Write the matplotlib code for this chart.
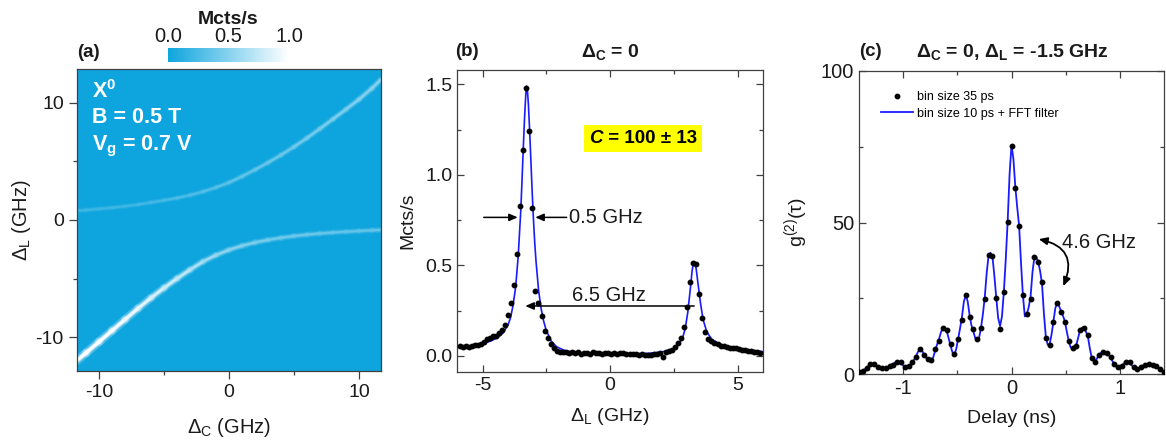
import numpy as np
import matplotlib
matplotlib.use("Agg")
import matplotlib.pyplot as plt
from matplotlib.colors import LinearSegmentedColormap, Normalize
from matplotlib.collections import LineCollection
from matplotlib.cm import ScalarMappable
from matplotlib.offsetbox import TextArea, HPacker, AnchoredOffsetbox
from matplotlib.ticker import MultipleLocator

plt.rcParams["font.family"] = ["Liberation Sans", "DejaVu Sans"]
plt.rcParams["mathtext.fontset"] = "custom"
plt.rcParams["mathtext.rm"] = "Liberation Sans"
plt.rcParams["mathtext.it"] = "Liberation Sans:italic"
plt.rcParams["mathtext.bf"] = "Liberation Sans:bold"
plt.rcParams["axes.unicode_minus"] = False

# ---- (a) cavity/laser detuning map: branch positions ----
dc_pts = [-11.7, -11, -10, -9, -8, -7, -6, -5, -4, -3, -2, -1, 0,
          1, 2, 3, 4, 5, 6, 7, 8, 9, 10, 11, 11.7]
upper_branch = [0.80, 0.85, 0.95, 1.05, 1.18, 1.32, 1.50, 1.68, 1.88, 2.12, 2.42, 2.78, 3.20,
                3.72, 4.30, 4.90, 5.55, 6.25, 7.00, 7.80, 8.62, 9.45, 10.30, 11.25, 12.00]
lower_branch = [-12.0, -11.35, -10.4, -9.45, -8.5, -7.55, -6.65, -5.8, -5.0, -4.25, -3.55, -3.0, -2.55,
                -2.2, -1.92, -1.7, -1.52, -1.37, -1.25, -1.15, -1.07, -1.0, -0.94, -0.88, -0.85]
upper_level = [0.20, 0.20, 0.20, 0.20, 0.20, 0.21, 0.22, 0.23, 0.25, 0.26, 0.28, 0.30, 0.32,
               0.34, 0.35, 0.37, 0.38, 0.40, 0.42, 0.43, 0.45, 0.46, 0.48, 0.49, 0.50]
lower_level = [1.0, 1.0, 1.0, 0.97, 0.95, 0.9, 0.85, 0.8, 0.75, 0.68, 0.6, 0.55, 0.5,
               0.47, 0.45, 0.42, 0.4, 0.39, 0.38, 0.37, 0.35, 0.35, 0.35, 0.35, 0.35]

# ---- (b) spectrum at Delta_C = 0 ----
b_start = -5.898
b_step = 0.119
b_counts = [0.052, 0.050, 0.053, 0.050, 0.055, 0.058, 0.062, 0.066, 0.075, 0.090,
            0.100, 0.108, 0.110, 0.125, 0.145, 0.170, 0.225, 0.290, 0.390, 0.560,
            0.830, 1.135, 1.480, 1.240, 0.815, 0.360, 0.290, 0.220, 0.135, 0.100,
            0.065, 0.040, 0.025, 0.020, 0.018, 0.022, 0.016, 0.019, 0.014, 0.020,
            0.012, 0.017, 0.015, 0.010, 0.018, 0.013, 0.016, 0.009, 0.014, 0.017,
            0.011, 0.015, 0.008, 0.013, 0.016, 0.010, 0.012, 0.007, 0.011, 0.005,
            0.009, 0.004, 0.006, 0.002, 0.008, 0.010, 0.015, -0.008, 0.020, 0.026,
            0.033, 0.050, 0.068, 0.100, 0.160, 0.270, 0.410, 0.515, 0.505, 0.340,
            0.210, 0.130, 0.095, 0.080, 0.072, 0.065, 0.056, 0.052, 0.050, 0.045,
            0.044, 0.040, 0.036, 0.034, 0.030, 0.028, 0.025, 0.022, 0.020, 0.016]
fit_x = [-6.0, -5.5, -5.0, -4.7, -4.4, -4.2, -4.0, -3.9, -3.8, -3.7, -3.6, -3.5, -3.45,
         -3.40, -3.35, -3.30, -3.27, -3.24, -3.20, -3.15, -3.10, -3.05, -3.00, -2.95,
         -2.90, -2.80, -2.70, -2.60, -2.50, -2.30, -2.10, -1.80, -1.50, -1.0, 0.0, 1.0,
         1.5, 2.0, 2.3, 2.5, 2.7, 2.85, 2.95, 3.05, 3.15, 3.22, 3.28, 3.32, 3.38, 3.45,
         3.55, 3.65, 3.80, 4.00, 4.30, 4.70, 5.20, 5.60, 6.0]
fit_y = [0.048, 0.055, 0.068, 0.080, 0.100, 0.125, 0.170, 0.21, 0.28, 0.38, 0.55, 0.80, 0.97,
         1.15, 1.32, 1.45, 1.49, 1.47, 1.39, 1.24, 1.07, 0.90, 0.75, 0.62,
         0.52, 0.36, 0.26, 0.19, 0.14, 0.08, 0.05, 0.03, 0.02, 0.014, 0.010, 0.010,
         0.013, 0.02, 0.03, 0.04, 0.065, 0.10, 0.15, 0.24, 0.37, 0.47, 0.52, 0.52, 0.48, 0.40,
         0.29, 0.20, 0.13, 0.09, 0.065, 0.05, 0.037, 0.03, 0.022]

# ---- (c) g2 at Delta_C = 0, Delta_L = -1.5 GHz ----
c_bin = 0.035        # ns, dots
c_fine = 0.0175      # ns, spacing of the filtered curve samples
c_dots = [0.8, 1.0, 1.9, 3.2, 3.2, 2.3, 2.1, 1.9, 2.8, 2.9,
          4.0, 3.8, 2.3, 2.5, 3.8, 5.6, 8.2, 6.3, 5.1, 4.5,
          8.3, 10.9, 15.1, 14.5, 9.8, 6.7, 11.5, 17.8, 26.0, 18.9,
          15.0, 11.7, 15.1, 24.9, 39.3, 39.1, 25.1, 14.8, 26.9, 50.3,
          75.2,
          61.5, 48.8, 26.0, 19.8, 24.7, 38.5, 36.9, 30.2, 12.0, 9.6,
          17.2, 23.3, 20.6, 17.3, 10.9, 8.5, 9.3, 14.5, 15.1, 12.8,
          5.4, 4.0, 6.3, 7.1, 6.8, 5.6, 3.2, 2.3, 2.6, 4.0,
          3.8, 2.3, 1.7, 2.3, 3.0, 3.2, 3.0, 2.5, 1.5, 0.8]
c_fit_left = [0.8, 0.9, 1.1, 1.5, 2.0, 2.6, 3.1, 3.3, 3.2, 2.8,
              2.4, 2.1, 2.0, 1.9, 2.0, 2.3, 2.7, 3.1, 3.4, 3.8,
              4.0, 3.9, 3.6, 2.9, 2.4, 2.3, 2.5, 3.0, 3.8, 4.8,
              6.0, 7.4, 8.2, 7.8, 6.6, 5.5, 4.8, 4.4, 4.4, 5.6,
              7.8, 9.8, 11.6, 13.8, 15.2, 15.4, 14.3, 11.8, 9.4, 7.2,
              6.4, 8.2, 11.6, 15.0, 18.8, 23.8, 26.1, 24.0, 19.5, 16.0,
              14.0, 11.8, 11.0, 12.0, 15.2, 19.8, 25.5, 33.5, 39.2, 40.0,
              38.8, 32.5, 25.2, 18.5, 15.8, 19.0, 27.2, 38.0, 50.6, 66.0,
              75.5]
c_fit_right = [71.0, 61.8, 55.0, 48.8, 36.5, 25.8, 19.0, 19.6, 22.0, 25.5,
               33.5, 38.6, 38.6, 37.0, 34.0, 29.8, 20.0, 12.3, 9.6, 9.9,
               13.0, 17.3, 21.8, 23.4, 22.4, 20.7, 19.2, 17.4, 14.0, 11.0,
               8.8, 8.4, 8.7, 9.6, 12.0, 14.5, 15.3, 15.1, 14.0, 12.6,
               8.8, 5.6, 4.3, 4.3, 5.3, 6.4, 7.0, 7.2, 7.1, 6.8,
               6.2, 5.4, 4.2, 3.2, 2.5, 2.3, 2.5, 2.9, 3.5, 4.0,
               3.9, 3.6, 2.9, 2.3, 1.9, 1.8, 2.0, 2.4, 2.8, 3.1,
               3.3, 3.3, 3.2, 3.0, 2.7, 2.3, 1.9, 1.5, 1.1, 0.8]

BLUE_BG = "#0ea5de"
LINE_BLUE = "#1a1aff"
INK = "#1a1a1a"
SPINE = "#404040"
cmap = LinearSegmentedColormap.from_list("blue_white", [BLUE_BG, "white"])

W, H = 1166, 442
fig = plt.figure(figsize=(W / 100, H / 100), dpi=100)


def px_axes(left, top, right, bottom):
    return fig.add_axes([left / W, 1 - bottom / H, (right - left) / W, (bottom - top) / H])


def style_spines(ax):
    for s in ax.spines.values():
        s.set_color(SPINE)
        s.set_linewidth(0.9)


def draw_branch(ax, xs, ys, level):
    pts = np.column_stack([xs, ys])
    segs = np.stack([pts[:-1], pts[1:]], axis=1)
    lev = (np.asarray(level[:-1]) + np.asarray(level[1:])) / 2
    for width, alpha in [(5.5, 0.25), (3.2, 0.55), (1.8, 1.0)]:
        lc = LineCollection(segs, colors=cmap(lev), linewidths=width * (0.55 + 0.6 * lev),
                            alpha=alpha, capstyle="round")
        ax.add_collection(lc)


TICK_FS = 14
LABEL_FS = 14

# ---------------- panel (a) ----------------
ax_a = px_axes(77, 69, 381, 371)
ax_a.set_facecolor(BLUE_BG)
draw_branch(ax_a, dc_pts, upper_branch, upper_level)
draw_branch(ax_a, dc_pts, lower_branch, lower_level)
ax_a.set_xlim(-11.7, 11.7)
ax_a.set_ylim(-12.9, 12.9)
ax_a.set_xticks([-10, 0, 10])
ax_a.set_yticks([-10, 0, 10])
ax_a.xaxis.set_minor_locator(MultipleLocator(5))
ax_a.yaxis.set_minor_locator(MultipleLocator(5))
ax_a.tick_params(which="both", direction="out", colors=SPINE, labelcolor=INK, labelsize=TICK_FS)
ax_a.tick_params(which="major", length=6, width=0.9)
ax_a.tick_params(which="minor", length=3, width=0.9)
ax_a.set_xlabel(r"$\Delta_\mathrm{C}$ (GHz)", fontsize=14.5, color=INK, labelpad=11)
ax_a.set_ylabel(r"$\Delta_\mathrm{L}$ (GHz)", fontsize=14.5, color=INK, labelpad=2)
style_spines(ax_a)
for ypos, txt in [(0.925, r"X$^\mathbf{0}$"), (0.838, "B = 0.5 T"), (0.745, r"V$_\mathbf{g}$ = 0.7 V")]:
    ax_a.text(0.049, ypos, txt, transform=ax_a.transAxes, color="white",
              fontsize=15.5, fontweight="bold", va="center")
ax_a.text(0.0, 1.053, "(a)", transform=ax_a.transAxes, fontsize=13.5, fontweight="bold",
          color=INK, va="center", ha="left")

cax = px_axes(168, 48, 289, 62)
cb = fig.colorbar(ScalarMappable(norm=Normalize(0, 1), cmap=cmap), cax=cax, orientation="horizontal")
cb.outline.set_visible(False)
cax.xaxis.set_ticks_position("top")
cax.xaxis.set_label_position("top")
cb.set_ticks([0.0, 0.5, 1.0])
cb.set_ticklabels(["0.0", "0.5", "1.0"])
cax.tick_params(length=0, labelsize=14.5, pad=1.5, labelcolor=INK)
cb.set_label("Mcts/s", fontsize=14, fontweight="bold", color=INK, labelpad=2)

# ---------------- panel (b) ----------------
ax_b = px_axes(457, 70, 763, 372)
b_x = b_start + b_step * np.arange(len(b_counts))
ax_b.plot(fit_x, fit_y, color=LINE_BLUE, lw=1.2, zorder=2)
ax_b.plot(b_x, b_counts, "o", color="black", ms=3.2, zorder=3)
ax_b.set_xlim(-6, 6)
ax_b.set_ylim(-0.09, 1.58)
ax_b.set_xticks([-5, 0, 5])
ax_b.set_yticks([0.0, 0.5, 1.0, 1.5])
ax_b.set_yticklabels(["0.0", "0.5", "1.0", "1.5"])
ax_b.xaxis.set_minor_locator(MultipleLocator(2.5))
ax_b.yaxis.set_minor_locator(MultipleLocator(0.25))
ax_b.tick_params(which="both", direction="in", top=True, right=True, colors=SPINE,
                 labelcolor=INK, labelsize=TICK_FS)
ax_b.tick_params(which="major", length=5, width=0.9)
ax_b.tick_params(which="minor", length=3, width=0.9)
ax_b.set_xlabel(r"$\Delta_\mathrm{L}$ (GHz)", fontsize=LABEL_FS, color=INK, labelpad=9)
ax_b.set_ylabel("Mcts/s", fontsize=LABEL_FS, color=INK, labelpad=6)
style_spines(ax_b)
ax_b.text(-0.007, 1.06, "(b)", transform=ax_b.transAxes, fontsize=13.5, fontweight="bold",
          color=INK, va="center", ha="left")
ax_b.text(0.5, 1.06, r"$\mathbf{\Delta_C}$ = 0", transform=ax_b.transAxes, fontsize=14,
          fontweight="bold", color=INK, va="center", ha="center")

arrow_kw = dict(arrowstyle="-|>,head_length=0.5,head_width=0.22", color="black", lw=1.1,
                shrinkA=0, shrinkB=0)
ax_b.annotate("", xy=(-3.62, 0.765), xytext=(-4.95, 0.765), arrowprops=arrow_kw)
ax_b.annotate("", xy=(-2.93, 0.765), xytext=(-1.70, 0.765), arrowprops=arrow_kw)
ax_b.text(-1.62, 0.765, "0.5 GHz", fontsize=14.5, color=INK, va="center", ha="left")
ax_b.annotate("", xy=(-3.32, 0.275), xytext=(3.3, 0.275), arrowprops=arrow_kw)
ax_b.text(-0.05, 0.335, "6.5 GHz", fontsize=14.5, color=INK, va="center", ha="center")

t1 = TextArea("C", textprops=dict(fontsize=13.5, fontweight="bold", fontstyle="italic", color="black"))
t2 = TextArea(" = 100 \u00b1 13", textprops=dict(fontsize=13.5, fontweight="bold", color="black"))
box = AnchoredOffsetbox(loc="center", child=HPacker(children=[t1, t2], pad=0, sep=0, align="baseline"),
                        pad=0.35, borderpad=0, frameon=True,
                        bbox_to_anchor=(1.29, 1.2), bbox_transform=ax_b.transData)
box.patch.set_facecolor("#ffff00")
box.patch.set_edgecolor("none")
ax_b.add_artist(box)

# ---------------- panel (c) ----------------
ax_c = px_axes(859, 71, 1164, 374)
half = (len(c_dots) - 1) // 2
c_x = c_bin * (np.arange(len(c_dots)) - half)
c_fit_y = c_fit_left + c_fit_right
c_fit_x = c_fine * (np.arange(len(c_fit_y)) - (len(c_fit_left) - 1))
line_c, = ax_c.plot(c_fit_x, c_fit_y, color=LINE_BLUE, lw=1.3, zorder=2,
                    label="bin size 10 ps + FFT filter")
dots_c, = ax_c.plot(c_x, c_dots, "o", color="black", ms=3.2, zorder=3, label="bin size 35 ps")
ax_c.set_xlim(-1.4, 1.4)
ax_c.set_ylim(0, 100)
ax_c.set_xticks([-1, 0, 1])
ax_c.set_yticks([0, 50, 100])
ax_c.xaxis.set_minor_locator(MultipleLocator(0.5))
ax_c.yaxis.set_minor_locator(MultipleLocator(25))
ax_c.tick_params(which="both", direction="in", top=True, right=True, colors=SPINE,
                 labelcolor=INK, labelsize=14.5)
ax_c.tick_params(which="major", length=5, width=0.9)
ax_c.tick_params(which="minor", length=3, width=0.9)
ax_c.set_xlabel("Delay (ns)", fontsize=LABEL_FS, color=INK, labelpad=9)
ax_c.set_ylabel(r"g$^{(2)}$($\mathrm{\tau}$)", fontsize=LABEL_FS, color=INK, labelpad=8)
style_spines(ax_c)
ax_c.text(0.0, 1.063, "(c)", transform=ax_c.transAxes, fontsize=13.5, fontweight="bold",
          color=INK, va="center", ha="left")
ax_c.text(0.503, 1.063, r"$\mathbf{\Delta_C}$ = 0, $\mathbf{\Delta_L}$ = -1.5 GHz",
          transform=ax_c.transAxes, fontsize=14, fontweight="bold", color=INK,
          va="center", ha="center")
ax_c.legend(handles=[dots_c, line_c], loc="upper left", bbox_to_anchor=(0.055, 0.95),
            frameon=False, fontsize=9, handlelength=2.6, handletextpad=0.3,
            borderaxespad=0, labelspacing=0.35, numpoints=1)
ax_c.annotate("", xy=(0.25, 44.5), xytext=(0.475, 29),
              arrowprops=dict(arrowstyle="<|-|>,head_length=0.5,head_width=0.22", color="black",
                              lw=1.3, connectionstyle="arc3,rad=0.6", shrinkA=0, shrinkB=0))
ax_c.text(0.46, 43.5, "4.6 GHz", fontsize=14.5, color=INK, va="center", ha="left")

fig.savefig("out.png", dpi=100)
